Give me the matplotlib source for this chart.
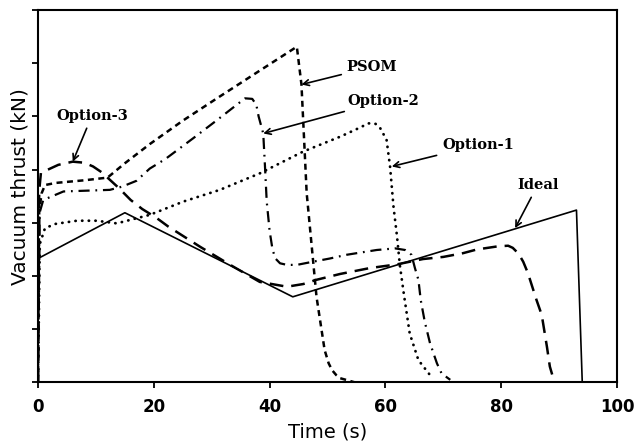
import numpy as np
import matplotlib as mpl
import matplotlib.pyplot as plt

mpl.rcParams['font.family'] = 'DejaVu Sans'

# thrust histories (time in s, thrust in axis units, y axis has no labels)
ideal_t = [0, 0, 15, 44, 93, 94]
ideal_f = [0, 2.33, 3.19, 1.61, 3.24, 0]

psom_t = [0, 0.2, 0.6, 1.2, 3, 8, 12, 15, 19.3, 25, 30.9, 38, 44.7, 45.5, 46.4,
          48.1, 49.5, 50.2, 50.8, 51.5, 52.2, 53.5, 54.8]
psom_f = [0, 3.2, 3.55, 3.71, 3.75, 3.8, 3.85, 4.12, 4.48, 4.92, 5.34, 5.84, 6.31, 5.6, 3.56,
          1.61, 0.61, 0.36, 0.23, 0.14, 0.08, 0.04, 0]

opt3_t = [0, 0.2, 0.5, 3.5, 6, 8, 9.5, 11, 12.5, 14, 16, 18, 20.5, 22.5, 28, 33.2, 38.3,
          43, 45.8, 48.1, 52.2, 57.3, 62, 66.5, 70, 73.4, 75.8, 79.5, 81.2, 82, 83, 83.8,
          84.6, 86.1, 87, 87.9, 88.4, 88.8]
opt3_f = [0, 3.6, 3.94, 4.09, 4.15, 4.13, 4.06, 3.95, 3.8, 3.65, 3.43, 3.26, 3.09, 2.93, 2.55,
          2.21, 1.89, 1.80, 1.85, 1.93, 2.04, 2.15, 2.22, 2.32, 2.36, 2.43, 2.50, 2.56, 2.57,
          2.53, 2.42, 2.27, 2.06, 1.55, 1.27, 0.67, 0.30, 0.15]

opt2_t = [0, 0.3, 0.9, 4.4, 12.4, 14.5, 17, 19.3, 22, 26.8, 30.9, 33.5, 35.75, 37, 37.7,
          38.1, 38.9, 39.2, 39.5, 40, 40.5, 41, 41.8, 43, 44.7, 47.5, 50.4, 53.3, 58.5, 61.7,
          63.4, 64.5, 65.1, 65.7, 66.1, 66.8, 67.7, 68.9, 69.7, 71.2]
opt2_f = [0, 3.2, 3.43, 3.59, 3.62, 3.68, 3.79, 4.02, 4.2, 4.59, 4.93, 5.15, 5.34, 5.33, 5.22,
          5.0, 4.68, 4.06, 3.4, 2.85, 2.5, 2.33, 2.24, 2.21, 2.21, 2.27, 2.33, 2.40, 2.49, 2.52,
          2.49, 2.40, 2.15, 1.93, 1.55, 1.14, 0.74, 0.36, 0.17, 0.05]

opt1_t = [0, 0.3, 1.2, 3, 6.7, 10.1, 13.6, 19.3, 25.1, 31.4, 38.3, 45.8, 52.2, 55, 57.1,
          58.3, 59.1, 60.2, 60.8, 61.4, 62.0, 62.5, 63.2, 64.2, 65.7, 67.7]
opt1_f = [0, 2.6, 2.90, 2.98, 3.04, 3.04, 2.99, 3.15, 3.40, 3.62, 3.93, 4.34, 4.62, 4.76, 4.87,
          4.86, 4.78, 4.56, 4.06, 3.30, 2.75, 2.2, 1.65, 0.92, 0.42, 0.14]

x_ticks = [0, 20, 40, 60, 80, 100]

fig = plt.figure(figsize=(6.37, 4.43), dpi=100)
ax = fig.add_axes([0.0597, 0.1366, 0.9089, 0.8408])

ax.plot(ideal_t, ideal_f, color='k', lw=1.2, ls='-')
ax.plot(psom_t, psom_f, color='k', lw=1.8, ls=(0, (2.4, 1.8)))
ax.plot(opt3_t, opt3_f, color='k', lw=1.8, ls=(0, (5.5, 3.2)))
ax.plot(opt2_t, opt2_f, color='k', lw=1.6, ls=(0, (5, 2.6, 0.8, 2.6)))
ax.plot(opt1_t, opt1_f, color='k', lw=2.0, ls=(0, (0.1, 2.3)),
        dash_capstyle='round', solid_capstyle='round')

# labels with arrows
ann = dict(fontsize=10.5, fontweight='bold', family='DejaVu Serif',
           ha='center', va='center')
arr = dict(arrowstyle='->', color='k', lw=1.2, shrinkA=2, shrinkB=0)
ax.annotate('Option-3', xy=(6.0, 4.15), xytext=(9.3, 5.01), arrowprops=arr, **ann)
ax.annotate('PSOM', xy=(45.5, 5.6), xytext=(57.7, 5.93), arrowprops=arr, **ann)
ax.annotate('Option-2', xy=(38.9, 4.68), xytext=(59.6, 5.29), arrowprops=arr, **ann)
ax.annotate('Option-1', xy=(61.1, 4.06), xytext=(76.0, 4.46), arrowprops=arr, **ann)
ax.annotate('Ideal', xy=(82.4, 2.90), xytext=(86.3, 3.71), arrowprops=arr, **ann)

ax.set_xlim(0, 100)
ax.set_ylim(0, 7)
ax.set_xticks(x_ticks)
ax.set_yticks(np.arange(0, 8))
ax.set_yticklabels([])
ax.tick_params(direction='out', length=4, width=1.3, labelsize=12, pad=7)
for lbl in ax.get_xticklabels():
    lbl.set_fontweight('bold')
for sp in ax.spines.values():
    sp.set_linewidth(1.5)

ax.set_xlabel('Time (s)', fontsize=14, labelpad=5)
ax.set_ylabel('Vacuum thrust (kN)', fontsize=14.5)
ax.yaxis.set_label_coords(-0.014, 0.527)

fig.savefig('out.png', dpi=100)
